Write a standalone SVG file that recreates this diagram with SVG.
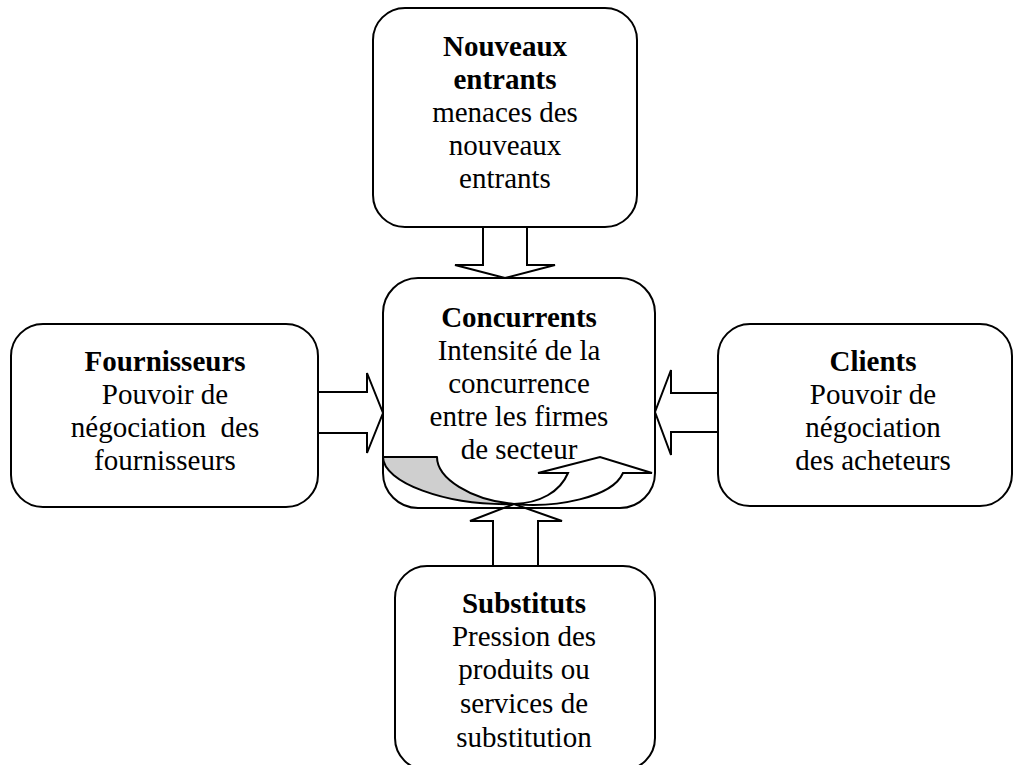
<svg xmlns="http://www.w3.org/2000/svg" width="1014" height="765" viewBox="0 0 1014 765">
<style>
.box{fill:#fff;stroke:#000;stroke-width:2}
.arr{fill:none;stroke:#000;stroke-width:2;stroke-linejoin:miter}
text{font-family:"Liberation Serif","Times New Roman",serif;font-size:29px;fill:#000;text-anchor:middle}
.b{font-weight:bold}
</style>
<rect width="1014" height="765" fill="#fff"/>
<g id="nouveaux-entrants">
<rect class="box" x="373" y="8" width="264" height="219" rx="32" ry="32"/>
<text x="505" y="56" class="b">Nouveaux</text>
<text x="505" y="89" class="b">entrants</text>
<text x="505" y="122">menaces des</text>
<text x="505" y="155">nouveaux</text>
<text x="505" y="188">entrants</text>
</g>
<g id="fournisseurs">
<rect class="box" x="11" y="324" width="307" height="183" rx="32" ry="32"/>
<text x="165" y="371" class="b">Fournisseurs</text>
<text x="165" y="404">Pouvoir de</text>
<text x="165" y="437" style="white-space:pre">négociation  des</text>
<text x="165" y="470">fournisseurs</text>
</g>
<g id="clients">
<rect class="box" x="718" y="324" width="294" height="182" rx="32" ry="32"/>
<text x="873" y="371" class="b">Clients</text>
<text x="873" y="404">Pouvoir de</text>
<text x="873" y="437">négociation</text>
<text x="873" y="470">des acheteurs</text>
</g>
<g id="substituts">
<rect class="box" x="395" y="566" width="260" height="204" rx="32" ry="32"/>
<text x="524" y="613" class="b">Substituts</text>
<text x="524" y="646">Pression des</text>
<text x="524" y="679">produits ou</text>
<text x="524" y="713">services de</text>
<text x="524" y="747">substitution</text>
</g>
<g id="concurrents">
<rect class="box" x="383" y="278" width="272" height="230" rx="35" ry="35"/>
<text x="519" y="327" class="b">Concurrents</text>
<text x="519" y="360">Intensité de la</text>
<text x="519" y="393">concurrence</text>
<text x="519" y="426">entre les firmes</text>
<text x="519" y="459">de secteur</text>
<path d="M383,457 L437,457 C437,478 470,500 514,504 C445,506 383,482 383,457 Z" fill="#cfcfcf" stroke="#000" stroke-width="2" stroke-linejoin="round"/>
<path d="M514,504 C555,508 612,498 623,473 L652,473 L600,457 L538,473 L568,473 C560,492 540,503 514,504 Z" fill="#fff" stroke="#000" stroke-width="2" stroke-linejoin="miter"/>
</g>
<g id="connectors">
<polygon class="arr" points="483,227 483,265 455,265 505,278 555,265 527,265 527,227"/>
<polygon class="arr" points="318,392 367,392 367,373 383,413 367,453 367,433 318,433"/>
<polygon class="arr" points="718,393 671,393 671,370 655,412 671,455 671,432 718,432"/>
<polygon class="arr" points="493,566 493,521 470,521 514,504 562,521 538,521 538,566"/>
</g>
</svg>
